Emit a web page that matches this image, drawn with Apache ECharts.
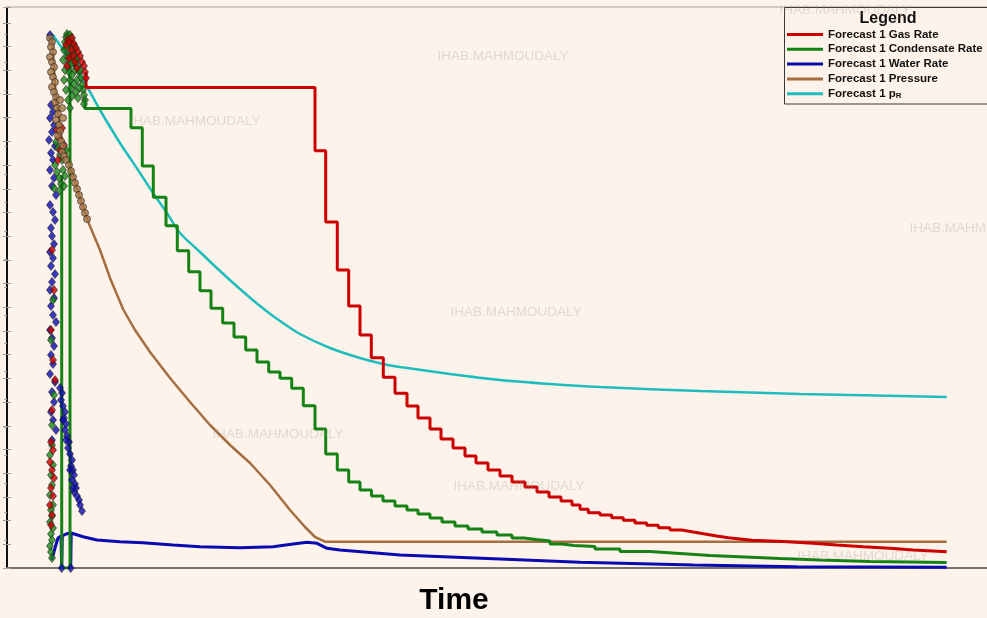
<!DOCTYPE html>
<html>
<head>
<meta charset="utf-8">
<script src="https://cdn.jsdelivr.net/npm/echarts@6/dist/echarts.min.js"></script>
<style>
html,body{margin:0;padding:0;background:#fdf3ea;}
#chart{width:987px;height:618px;}
</style>
</head>
<body>
<div id="chart"></div>
<script>
// ---- DATA: [time, value] ----
var seriesNames = ['Forecast 1 Gas Rate','Forecast 1 Condensate Rate','Forecast 1 Water Rate','Forecast 1 Pressure','Forecast 1 pR'];

var gasRate = [[79,496],[79,480.5],[308,417.3],[318.7,346],[330.3,298],[341.7,262],[353,233],[364.3,210.3],[376.3,190.7],[388,174.7],[400,162],[411,150],[423,139],[434,129],[446,120],[458,112],[469,105],[481,98],[493,92],[505,86],[518,81],[530,76],[542,71],[554,67],[565,63],[573,58.7],[581.3,55.3],[593,53],[604.7,50.3],[616.3,47.7],[628,45],[639.7,42.7],[651.3,40.3],[663,38],[674.7,36],[686.3,34],[698,32],[709.7,30.3],[721.3,29],[733,27.7],[744.7,26.5],[776,24.7],[806,23],[830,21.3],[856,19.7],[883,18],[906,16.3],[939.7,15.7]];

var condRate = [[78,470],[78,459.5],[124,440.3],[135.3,402],[146.3,370.7],[159,342.3],[170.3,317.3],[181.7,296.3],[193,277.3],[204,259.7],[215.7,245],[227,231],[238.7,218],[250,206],[261.7,196],[273,189.7],[284.7,179.7],[296.3,162.3],[308,139],[318.7,114],[330.3,98],[341.7,86],[353,78],[364.5,72],[376,67],[388,62],[400,58],[411,54],[423,50],[435,46],[448,42],[461,39],[475,36],[490,33],[505,30],[517,28.5],[529,27],[543,24],[555,22.5],[567,21.5],[588,19],[613,16.5],[643,14.5],[673,12.5],[703,11],[738,9.5],[773,8],[813,6.5],[863,5.5],[939.7,5]];

var condShutIn = [[54.7,393],[54.7,0],[63,0],[63,533]];

var waterRate = [[44.7,8],[48,20],[51,30],[54,32],[54.7,0],[55.3,32],[59,34],[63.3,35],[63.7,0],[64.2,35],[66,35.7],[76,31.3],[90,28],[113,26.3],[136,25.3],[166,23],[193,21.3],[233,20.3],[266,21.3],[286,24],[300,25.7],[310,24.7],[320,19.7],[333,18],[393,13],[443,11],[493,9],[573,5.7],[686,3],[790,1.3],[939.7,0.7]];

var pressure = [[45,532],[49,468],[55,428],[63,403],[71,376],[80,349],[93,318],[103,290],[116,259],[128,238],[143,216],[163,190],[183,166],[203,143],[223,123],[243,105],[263,83],[283,58],[298,41],[308,31],[318,26.3],[939.7,26.3]];

var pR = [[46,533],[63,508],[78,485],[93,458],[113,425],[133,395],[146,375],[160,355],[173,335],[193,316],[213,297],[233,279],[253,262],[273,247],[293,234],[323,220],[353,210],[376,204],[393,201],[443,194],[493,188],[543,184],[593,181],[693,177],[793,174],[939.7,171]];

var histWater = [[43,533],[44,463],[46,456],[43,450],[47,443],[45,436],[42,428],[48,422],[44,415],[46,408],[43,398],[47,390],[45,382],[49,373],[43,363],[46,356],[48,348],[44,340],[45,332],[47,324],[43,316],[46,310],[44,302],[48,294],[45,286],[43,278],[47,270],[44,262],[46,253],[49,246],[43,238],[45,230],[47,222],[44,213],[46,204],[43,194],[48,186],[45,176],[47,166],[44,156],[46,148],[49,138],[45,128],[53,180],[55,175],[54,168],[56,162],[58,156],[57,150],[59,144],[58,138],[60,132],[62,126],[61,120],[63,114],[65,108],[64,102],[66,98],[67,93],[65,88],[68,84],[69,80],[67,76],[70,72],[72,68],[73,63],[75,57],[56,148],[59,128],[63,98],[66,80],[54.7,0],[63.7,0]];

var histPressure = [[43,530],[45,526],[44,521],[46,516],[43,511],[45,506],[47,501],[44,496],[46,491],[48,486],[45,481],[47,476],[49,471],[48,465],[50,460],[51,454],[49,448],[52,443],[53,437],[51,432],[54,427],[56,422],[55,416],[57,412],[59,408],[62,403],[64,397],[66,391],[68,385],[70,379],[72,373],[74,367],[76,361],[78,355],[80,349],[53,468],[55,460],[56,450]];

var histCond = [[56,508],[57,518],[58,526],[59,531],[60,534],[61,532],[62,528],[63,533],[64,530],[65,524],[66,518],[67,522],[68,513],[69,508],[70,510],[71,502],[72,496],[73,498],[74,490],[75,483],[76,478],[77,473],[78,468],[77,464],[59,520],[60,512],[61,504],[62,496],[63,488],[64,480],[65,472],[58,498],[57,488],[59,478],[61,468],[63,460],[66,506],[68,498],[70,488],[72,480],[65,493],[67,484],[69,476],[71,470],[62,513],[64,504],[49,426],[51,420],[53,413],[55,408],[48,403],[50,396],[52,390],[54,384],[56,398],[58,392],[47,380],[53,378],[59,418],[57,382],[46,268],[44,228],[47,173],[45,143],[45,123],[43,113],[46,103],[44,93],[45,83],[43,73],[46,63],[44,58],[45,52],[43,46],[46,40],[44,34],[45,28],[43,22],[44,16],[45,10]];

var histGas = [[59,523],[61,528],[63,526],[65,530],[67,524],[69,520],[71,516],[73,512],[75,506],[77,502],[78,496],[79,490],[66,512],[68,506],[70,500],[64,518],[62,510],[60,502],[50,438],[52,430],[55,440],[53,418],[57,423],[51,408],[45,318],[47,278],[44,238],[46,208],[48,188],[45,158],[44,126],[46,118],[43,106],[45,98],[47,90],[44,80],[46,72],[43,63],[45,53],[44,43]];

var watermarks = [[503,56],[195,121],[975,228],[516,312],[278,434],[519,486],[863,556],[845,10]];

// ---- CHART ----
var BG = '#fdf3ea';
var C = {gas:'#cc0000', cond:'#148214', water:'#0a0ab0', pres:'#a56e41', pr:'#1ebdbd'};
var chart = echarts.init(document.getElementById('chart'), null, {renderer:'canvas'});

function lineS(name, data, color, width, extra){
  var s = {name:name, type:'line', data:data, symbol:'none', showSymbol:false,
    lineStyle:{color:color, width:width}, itemStyle:{color:color}, z:3};
  for (var k in extra) s[k]=extra[k];
  return s;
}
function scat(name, data, color, symbol, size){
  return {name:name, type:'scatter', data:data, symbol:symbol, symbolSize:size,
    itemStyle:{color:color, borderColor:'#1a1a1a', borderWidth:0.7}, z:4};
}

var graphics = [];
watermarks.forEach(function(w){
  graphics.push({type:'text', x:w[0], y:w[1], z:30, silent:true,
    style:{text:'IHAB.MAHMOUDALY', font:'13.5px "Liberation Sans"', fill:'rgba(150,145,140,0.27)', textAlign:'center', textVerticalAlign:'middle'}});
});
graphics.push({type:'rect', z:8, shape:{x:784.5, y:7.5, width:210, height:96.5}, style:{fill:BG, stroke:'#3a3a3a', lineWidth:1}});
graphics.push({type:'text', z:9, x:888, y:19, style:{text:'Legend', font:'bold 16px "Liberation Sans"', fill:'#111', textAlign:'center', textVerticalAlign:'middle'}});
graphics.push({type:'text', z:9, x:454, y:601, style:{text:'Time', font:'bold 30px "Liberation Sans"', fill:'#000', textAlign:'center', textVerticalAlign:'middle'}});

var yBase = {type:'value', min:0, max:561, axisLabel:{show:false}, splitLine:{show:false}};
var option = {
  backgroundColor: BG,
  animation: false,
  grid: {left:7, right:0, top:7, bottom:50},
  xAxis: [
    {type:'value', min:0, max:980, axisLine:{show:true, onZero:false, lineStyle:{color:'#77726e', width:2}}, axisTick:{show:false}, axisLabel:{show:false}, splitLine:{show:false}},
    {type:'value', position:'top', min:0, max:980, axisLine:{show:true, onZero:false, lineStyle:{color:'#d3cbc3', width:2}}, axisTick:{show:false}, axisLabel:{show:false}, splitLine:{show:false}}
  ],
  yAxis: [
    Object.assign({}, yBase, {position:'left', interval:23.7, axisLine:{show:true, onZero:false, lineStyle:{color:'#111', width:2}}, axisTick:{show:true, length:4, lineStyle:{color:'#9a9a9a'}}}),
    Object.assign({}, yBase, {position:'left', interval:23.7, axisLine:{show:false}, axisTick:{show:true, inside:true, length:4, lineStyle:{color:'#9a9a9a'}}}),
    Object.assign({}, yBase, {position:'right', interval:28.1, axisLine:{show:false}, axisTick:{show:true, inside:true, length:3, lineStyle:{color:'#aaa'}}})
  ],
  legend: {
    data: seriesNames, orient:'vertical', left:787, top:28.5, itemWidth:36, itemHeight:3, itemGap:2.8,
    icon:'rect', selectedMode:false, z:10, padding:0,
    itemStyle:{borderWidth:0},
    textStyle:{fontFamily:'Liberation Sans', fontWeight:'bold', fontSize:11.5, color:'#111', lineHeight:12,
      rich:{sub:{fontFamily:'Liberation Sans', fontWeight:'bold', fontSize:8, color:'#111', verticalAlign:'bottom', padding:[5,0,0,0]}}},
    formatter: function(n){ return n === 'Forecast 1 pR' ? 'Forecast 1 p{sub|R}' : n; }
  },
  graphic: graphics,
  series: [
    lineS(seriesNames[3], pressure, C.pres, 2.5, {}),
    lineS(seriesNames[4], pR, C.pr, 2.5, {smooth:0.3}),
    lineS(seriesNames[2], waterRate, C.water, 3, {}),
    lineS(seriesNames[1], condRate, C.cond, 3, {step:'end'}),
    lineS(seriesNames[0], gasRate, C.gas, 3, {step:'end'}),
    lineS('History Condensate Shut-in', condShutIn, C.cond, 3, {}),
    scat('History Water Rate', histWater, C.water, 'diamond', [7,9]),
    scat('History Condensate Rate', histCond, '#1a8a1a', 'diamond', [7,9]),
    scat('History Gas Rate', histGas, C.gas, 'diamond', [7,9]),
    scat('History Pressure', histPressure, '#a87848', 'circle', 7)
  ]
};
chart.setOption(option);
</script>
</body>
</html>
